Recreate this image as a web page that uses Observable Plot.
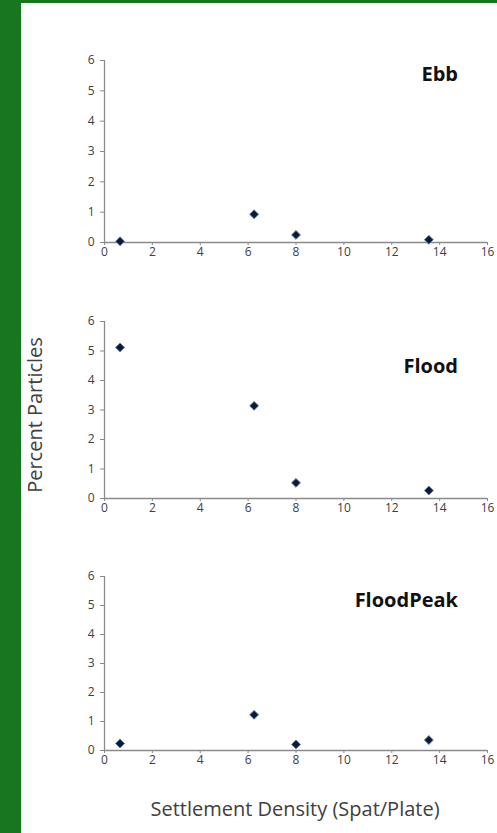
<!DOCTYPE html>
<html>
<head>
<meta charset="utf-8">
<script src="https://cdn.jsdelivr.net/npm/d3@7"></script>
<script src="https://cdn.jsdelivr.net/npm/@observablehq/plot@0.6"></script>
<style>
  html, body { margin: 0; padding: 0; background: #fff; }
  #page { position: relative; width: 497px; height: 833px; overflow: hidden; background: #fff; font-family: "Open Sans", sans-serif; }
  #bar-left { position: absolute; left: 0; top: 0; width: 21px; height: 833px; background: #177620; }
  #bar-top { position: absolute; left: 0; top: 0; width: 497px; height: 3px; background: #177620; }
  .panel { position: absolute; left: 0; }
  .panel svg text { font-size: 12px; }
  #ylabel { position: absolute; left: 34px; top: 415px; transform: translate(-50%, -50%) rotate(-90deg); white-space: nowrap; font-size: 20px; color: #404040; }
  #xlabel { position: absolute; left: 295px; top: 808px; transform: translate(-50%, -50%); white-space: nowrap; font-size: 20px; color: #404040; }
</style>
</head>
<body>
<div id="page">
  <div id="bar-left"></div>
  <div id="bar-top"></div>
  <div id="ylabel">Percent Particles</div>
  <div id="xlabel">Settlement Density (Spat/Plate)</div>
</div>
<script>
// Data
const panelNames = ["Ebb", "Flood", "FloodPeak"];
const density = [0.65, 6.25, 8.0, 13.55];
const ebbValues = [0.04, 0.93, 0.25, 0.09];
const floodValues = [5.12, 3.14, 0.53, 0.27];
const floodPeakValues = [0.24, 1.23, 0.21, 0.36];
const xTicks = [0, 2, 4, 6, 8, 10, 12, 14, 16];
const yTicks = [0, 1, 2, 3, 4, 5, 6];

const seriesValues = [ebbValues, floodValues, floodPeakValues];
// layout per panel: svg top, plot area top margin, plot area height, title y
const layout = [
  {top: 50, mt: 10, h: 182, titleY: 73},
  {top: 311, mt: 10, h: 177, titleY: 365},
  {top: 566, mt: 10, h: 174, titleY: 599}
];

const page = document.getElementById("page");
const axisColor = "#8a8a8a";
const textColor = "#404040";

panelNames.forEach((name, i) => {
  const L = layout[i];
  const data = density.map((d, j) => ({x: d, y: seriesValues[i][j]}));
  const mb = 24;
  const chart = Plot.plot({
    width: 497,
    height: L.mt + L.h + mb,
    marginLeft: 104,
    marginRight: 10,
    marginTop: L.mt,
    marginBottom: mb,
    style: {fontFamily: "'Open Sans', sans-serif", fontSize: "12px", color: textColor, background: "transparent"},
    x: {domain: [0, 16]},
    y: {domain: [0, 6]},
    marks: [
      Plot.axisX({ticks: xTicks, tickFormat: d3.format("d"), tickSize: 3, tickPadding: 2, stroke: axisColor, fill: textColor, label: null, fontSize: 12}),
      Plot.axisY({ticks: yTicks, tickFormat: d3.format("d"), tickSize: 4, tickPadding: 6, stroke: axisColor, fill: textColor, label: null, fontSize: 12}),
      Plot.ruleY([0], {stroke: axisColor, strokeWidth: 1.3}),
      Plot.ruleX([0], {stroke: axisColor, strokeWidth: 1.3}),
      Plot.dot(data, {x: "x", y: "y", symbol: "diamond2", r: 4, fill: "#0c1a36", stroke: "#5b7fae", strokeWidth: 1})
    ]
  });
  const wrap = document.createElement("div");
  wrap.className = "panel";
  wrap.style.top = L.top + "px";
  wrap.appendChild(chart);
  page.appendChild(wrap);

  const t = document.createElement("div");
  t.textContent = name;
  t.style.position = "absolute";
  t.style.right = (497 - 458) + "px";
  t.style.top = L.titleY + "px";
  t.style.transform = "translateY(-50%)";
  t.style.fontFamily = "'Open Sans', sans-serif";
  t.style.fontWeight = "bold";
  t.style.fontSize = "20px";
  t.style.color = "#111";
  page.appendChild(t);
});
</script>
</body>
</html>
